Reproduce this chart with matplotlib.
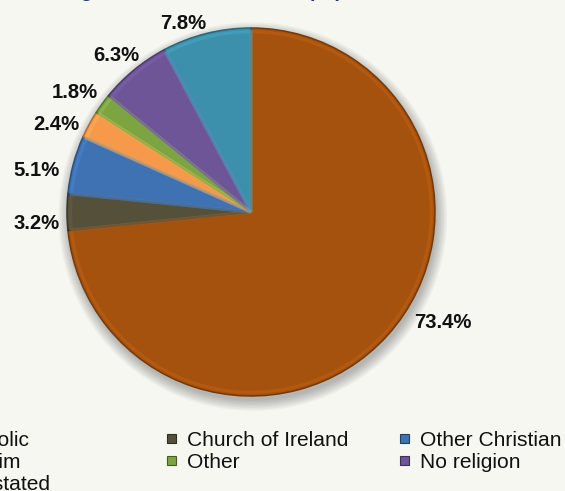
import numpy as np
import matplotlib.pyplot as plt
from matplotlib.patches import Circle, Rectangle
from matplotlib.colors import to_rgb

# religion shares, clockwise from 12 o'clock
religions = ["Catholic", "Church of Ireland", "Other Christian",
             "Muslim", "Other", "No religion", "Not stated"]
shares = [73.4, 3.2, 5.1, 2.4, 1.8, 6.3, 7.8]
colors = ["#A6520F", "#55503A", "#3E72B3", "#F7994A", "#7CA542", "#6D5597", "#3C90AB"]

title = "Religious breakdown of the population"

# label anchors in pie units (radius = 1)
label_pos = [(1.043, -0.603), (-1.163, -0.060), (-1.163, 0.228), (-1.060, 0.473),
             (-0.957, 0.647), (-0.734, 0.853), (-0.370, 1.027)]

bg = "#F6F7F1"
W, H = 565, 491
fig = plt.figure(figsize=(W / 100, H / 100), dpi=100, facecolor=bg)

# pie centred at (251, 212) px with radius 184 px
cx, cy, r = 251, 212, 184
span = 1.2 * r
ax = fig.add_axes([(cx - span) / W, (H - cy - span) / H, 2 * span / W, 2 * span / H])
ax.axis("off")

# soft shadow under the pie
for k in range(8):
    ax.add_patch(Circle((0.01, -0.025), 1.0 + 0.008 * k, color="black",
                        alpha=0.035, lw=0, zorder=0))


def shade(c, f):
    return tuple(min(1, v * f) for v in to_rgb(c))


wedges, _ = ax.pie(shares, colors=colors, startangle=90, counterclock=False,
                   radius=1.0, center=(0, 0),
                   wedgeprops=dict(linewidth=1.1, zorder=2))
for w, c in zip(wedges, colors):
    w.set_edgecolor(shade(c, 0.7))

# lighter rim to give the slices a bevelled look
rims, _ = ax.pie(shares, startangle=90, counterclock=False, radius=0.98,
                 wedgeprops=dict(linewidth=2.2, fill=False, zorder=3))
for w, c in zip(rims, colors):
    w.set_edgecolor(shade(c, 1.2) + (0.45,))

# pie() resets the limits, so fix them afterwards
ax.set_xlim(-1.2, 1.2)
ax.set_ylim(-1.2, 1.2)
ax.set_aspect("equal")

for (x, y), v in zip(label_pos, shares):
    ax.text(x, y, f"{v:.1f}%", ha="center", va="center", fontsize=14.6,
            fontweight="bold", family="Liberation Sans", color="#111111")

# title, mostly above the top edge
fig.text(44 / W, 1 + 3 / H, title, ha="left", va="baseline", fontsize=14.4,
         fontweight="bold", family="Liberation Sans", color="#1F3E78")

# legend laid out in a 3-column grid
lx0, ly0 = -62, 438
col_step, row_step = 233, 22
for i, (name, c) in enumerate(zip(religions, colors)):
    row, col = divmod(i, 3)
    mx = lx0 + col * col_step
    my = ly0 + row * row_step
    fig.add_artist(Rectangle(((mx - 4.5) / W, (H - my - 4.5) / H), 9 / W, 9 / H,
                             facecolor=c, edgecolor=shade(c, 0.55), lw=0.8,
                             transform=fig.transFigure))
    fig.text((mx + 16) / W, (H - my) / H, name, ha="left", va="center_baseline",
             fontsize=15.1, family="Liberation Sans", color="#111111")

fig.savefig("out.png", dpi=100, facecolor=bg)
